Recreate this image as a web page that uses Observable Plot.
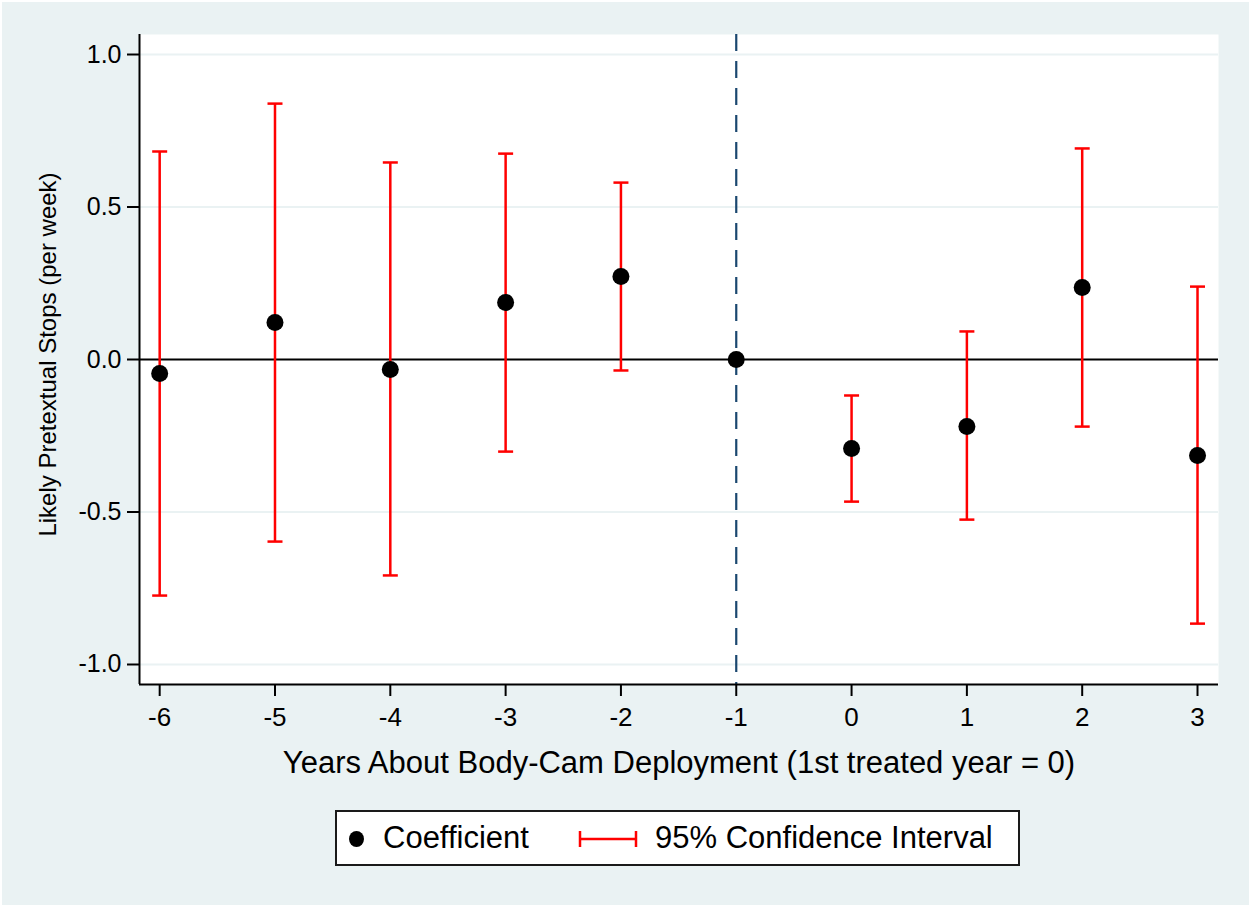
<!DOCTYPE html>
<html>
<head>
<meta charset="utf-8">
<script src="https://cdn.jsdelivr.net/npm/d3@7"></script>
<script src="https://cdn.jsdelivr.net/npm/@observablehq/plot@0.6"></script>
<style>
  html, body { margin: 0; padding: 0; background: #ffffff; }
  body { width: 1249px; height: 909px; position: relative; overflow: hidden;
         font-family: Arial, "Liberation Sans", sans-serif; }
  #bg { position: absolute; left: 2px; top: 2px; width: 1247px; height: 903px; background: #EAF2F3; }
  #chart { position: absolute; left: 0; top: 0; }
  #legend { position: absolute; left: 335px; top: 810px; width: 681px; height: 52px;
            background: #ffffff; border: 2px solid #1a1a1a; }
  .li { position: absolute; top: 0; height: 52px; line-height: 52px; font-size: 31px; color: #000; white-space: nowrap; }
  .dotsym { position: absolute; width: 15px; height: 16px; border-radius: 50%; background: #000; }
</style>
</head>
<body>
<div id="bg"></div>
<div id="chart"></div>
<div id="legend"></div>
<script>
// ---- data ----
const years = [-6, -5, -4, -3, -2, -1, 0, 1, 2, 3];
const coef  = [-0.046, 0.121, -0.033, 0.187, 0.272, 0.000, -0.292, -0.220, 0.236, -0.315];
const lower = [-0.774, -0.597, -0.708, -0.302, -0.036, null, -0.466, -0.525, -0.220, -0.866];
const upper = [0.682, 0.839, 0.646, 0.675, 0.580, null, -0.118, 0.092, 0.692, 0.239];
const yTicks = [-1, -0.5, 0, 0.5, 1];
const xTitle = "Years About Body-Cam Deployment (1st treated year = 0)";
const yTitle = "Likely Pretextual Stops (per week)";
const legendLabels = ["Coefficient", "95% Confidence Interval"];
const refYear = -1;

const data = years.map((x, i) => ({x, coef: coef[i], lo: lower[i], hi: upper[i]}));
const ci = data.filter(d => d.lo != null);
const caps = ci.flatMap(d => [{x: d.x, y: d.lo}, {x: d.x, y: d.hi}]);

const xDomain = [-6.175, 3.182];
const yDomain = [-1.0656, 1.0656];

const capSymbol = {
  draw(context, size) {
    const r = Math.sqrt(size / Math.PI);
    context.moveTo(-r, 0);
    context.lineTo(r, 0);
  }
};

const plot = Plot.plot({
  width: 1249,
  height: 800,
  marginTop: 34,
  marginLeft: 139,
  marginRight: 31,
  marginBottom: 116,
  style: { background: "transparent", fontFamily: "Arial, 'Liberation Sans', sans-serif", color: "#000" },
  x: { domain: xDomain, axis: null },
  y: { domain: yDomain, axis: null },
  marks: [
    Plot.frame({ fill: "white", stroke: null }),
    Plot.gridY(yTicks.filter(t => t !== 0), { stroke: "#EAF2F3", strokeOpacity: 1, strokeWidth: 2 }),
    Plot.ruleY([0], { stroke: "black", strokeWidth: 2 }),
    Plot.ruleX([refYear], { stroke: "#1a476f", strokeWidth: 2.2, strokeDasharray: "17,10" }),
    Plot.ruleX(ci, { x: "x", y1: "lo", y2: "hi", stroke: "#ff0000", strokeWidth: 2.5 }),
    Plot.dot(caps, { x: "x", y: "y", r: 7.5, symbol: capSymbol, stroke: "#ff0000", strokeWidth: 2.5, fill: "none" }),
    Plot.dot(data, { x: "x", y: "coef", r: 8.5, fill: "black", stroke: null }),
    // axis ticks (labels drawn as text marks below)
    Plot.axisY({ ticks: yTicks, tickFormat: () => "", tickSize: 12, label: null, strokeWidth: 2 }),
    Plot.axisX({ ticks: years, tickFormat: () => "", tickSize: 12, label: null, strokeWidth: 2 }),
    Plot.text(yTicks, { y: d => d, text: d => d.toFixed(1), frameAnchor: "left", textAnchor: "end", dx: -18, fontSize: 25, fill: "black" }),
    Plot.text(years, { x: d => d, text: d => String(d), frameAnchor: "bottom", lineAnchor: "top", dy: 23, fontSize: 26, fill: "black" }),
    Plot.ruleX([xDomain[0]], { stroke: "black", strokeWidth: 2 }),
    Plot.ruleY([yDomain[0]], { stroke: "black", strokeWidth: 2 }),
    Plot.text([xTitle], { text: d => d, frameAnchor: "bottom", dy: 88, fontSize: 31, fill: "black" }),
    Plot.text([yTitle], { text: d => d, frameAnchor: "left", textAnchor: "middle", rotate: -90, dx: -91, dy: -5, fontSize: 24, fill: "black" })
  ]
});
document.getElementById("chart").appendChild(plot);

// legend
const lg = document.getElementById("legend");
lg.innerHTML = `
  <div class="dotsym" style="left:12px; top:19px;"></div>
  <div class="li" style="left:46px;">${legendLabels[0]}</div>
  <svg style="position:absolute; left:241px; top:16px;" width="62" height="22">
    <line x1="2" y1="11" x2="58" y2="11" stroke="#ff0000" stroke-width="2.5"/>
    <line x1="2" y1="3" x2="2" y2="19" stroke="#ff0000" stroke-width="2.5"/>
    <line x1="58" y1="3" x2="58" y2="19" stroke="#ff0000" stroke-width="2.5"/>
  </svg>
  <div class="li" style="left:318px;">${legendLabels[1]}</div>
`;
</script>
</body>
</html>
